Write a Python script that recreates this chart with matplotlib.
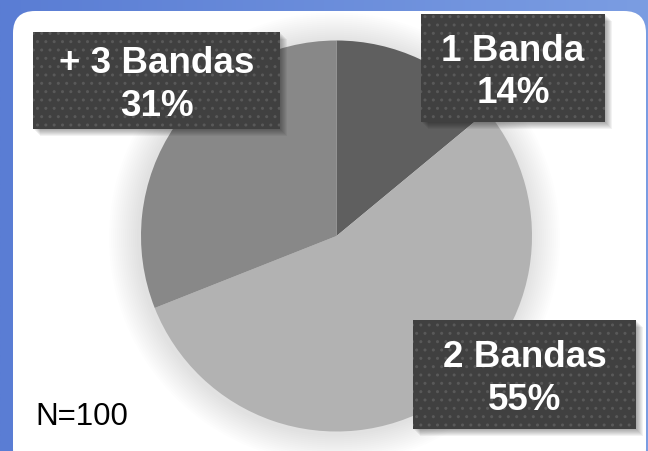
import numpy as np
import matplotlib
matplotlib.use("Agg")
import matplotlib.pyplot as plt
from matplotlib.patches import FancyBboxPatch, Rectangle, Circle
from matplotlib.colors import LinearSegmentedColormap

plt.rcParams['font.family'] = ['Liberation Sans', 'DejaVu Sans']

# data
categories = ['1 Banda', '2 Bandas', '+ 3 Bandas']
shares = [14, 55, 31]
slice_colors = ['#5f5f5f', '#b2b2b2', '#888888']
sample_note = 'N=100'

W, H = 648, 452
fig = plt.figure(figsize=(W / 100, H / 100), dpi=100)
ax = fig.add_axes([0, 0, 1, 1])

# blue gradient frame
grad = np.linspace(0, 1, 256).reshape(1, -1)
cmap = LinearSegmentedColormap.from_list('frame', ['#5a7dd4', '#7b9de2'])
ax.imshow(grad, extent=[0, W, 0, H], aspect='auto', cmap=cmap, zorder=0)

# white rounded panel
panel = FancyBboxPatch((13, -20), 633, H - 12 + 20, boxstyle='round,pad=0,rounding_size=22',
                       facecolor='white', edgecolor='none', zorder=1)
ax.add_patch(panel)

# soft shadow around the pie
cx, cy, r = 336.5, H - 237, 195.5
for k in range(30, 0, -2):
    ax.add_patch(Circle((cx - 2, cy - 2), r + k, facecolor='black', edgecolor='none',
                        alpha=0.009, zorder=2))

ax.pie(shares, colors=slice_colors, startangle=90, counterclock=False,
       center=(cx, cy), radius=r, wedgeprops=dict(linewidth=0))
for w in ax.patches[-3:]:
    w.set_zorder(3)

# label boxes: (x0, y0_top, x1, y1_bottom) in pixels from top-left, baselines of lines
boxes = [(421, 15, 605, 123, 61, 103),
         (413, 321, 636, 430, 367, 410),
         (33, 33, 280, 130, 73, 116)]

for cat, val, (x0, y0, x1, y1, b1, b2) in zip(categories, shares, boxes):
    # shadow
    for k in range(1, 8):
        ax.add_patch(Rectangle((x0 + k, H - y1 - k), x1 - x0, y1 - y0,
                               facecolor='black', edgecolor='none', alpha=0.05, zorder=4))
    ax.add_patch(Rectangle((x0, H - y1), x1 - x0, y1 - y0, facecolor='#404040',
                           edgecolor='#595959', linewidth=0, hatch='..', zorder=5))
    xc = (x0 + x1) / 2
    ax.text(xc, H - b1, cat, ha='center', va='baseline', color='white',
            fontsize=26.5, fontweight='bold', zorder=6)
    ax.text(xc, H - b2, f'{val}%', ha='center', va='baseline', color='white',
            fontsize=26.5, fontweight='bold', zorder=6)

ax.text(35, H - 425, sample_note, ha='left', va='baseline', color='black',
        fontsize=22.5, zorder=6)

ax.set_xlim(0, W)
ax.set_ylim(0, H)
ax.set_aspect('auto')
ax.axis('off')

fig.savefig('out.png', dpi=100)
